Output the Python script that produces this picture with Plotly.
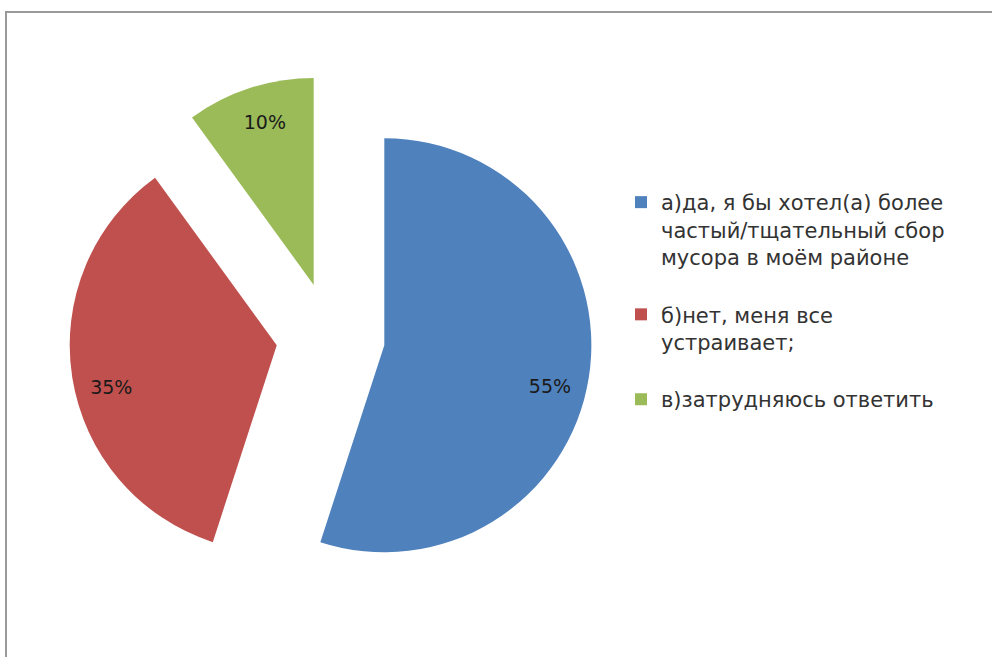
import plotly.graph_objects as go

# Data
labels = [
    "а)да, я бы хотел(а) более<br>частый/тщательный сбор<br>мусора в моём районе",
    "б)нет, меня все<br>устраивает;",
    "в)затрудняюсь ответить",
]
values = [55, 35, 10]
value_text = ["55%", "35%", "10%"]
colors = ["#4F81BD", "#C0504D", "#9BBB59"]
pull_all = 0.263

NB = "\u00a0"
# pad legend entries so they are spaced like the original
legend_pad = ["<br>" + NB, "<br>" + NB, ""]
legend_labels = [l + p for l, p in zip(labels, legend_pad)]

# nudge label text toward the outer edge (as in the original) with invisible padding
lead_lines = [2, 2, 0]
trail_lines = [0, 0, 1]
left_pad = [21, 0, 0]
right_pad = [0, 19, 0]
slice_text = []
for t, a, b, lp, rp in zip(value_text, lead_lines, trail_lines, left_pad, right_pad):
    s = "".join(NB + "<br>" for _ in range(a))
    s += NB * lp + t + NB * rp
    s += "".join("<br>" + NB for _ in range(b))
    slice_text.append(s)

fig = go.Figure(
    go.Pie(
        labels=legend_labels,
        values=values,
        text=slice_text,
        textinfo="text",
        textposition="inside",
        insidetextorientation="horizontal",
        textfont=dict(family="DejaVu Sans", size=19, color="#1a1a1a"),
        marker=dict(colors=colors, line=dict(width=0)),
        pull=[pull_all] * len(values),
        sort=False,
        direction="clockwise",
        rotation=0,
        domain=dict(x=[0.0696, 0.5968], y=[0.0895, 0.8855]),
        hoverinfo="percent",
    )
)

fig.update_layout(
    width=992,
    height=657,
    margin=dict(l=0, r=0, t=0, b=0),
    paper_bgcolor="white",
    plot_bgcolor="white",
    font=dict(family="DejaVu Sans", color="#333333"),
    legend=dict(
        x=0.626,
        xanchor="left",
        y=0.723,
        yanchor="top",
        valign="top",
        font=dict(family="DejaVu Sans", size=21, color="#333333"),
        bgcolor="rgba(0,0,0,0)",
    ),
    shapes=[
        dict(
            type="rect",
            xref="paper",
            yref="paper",
            x0=6 / 992,
            x1=1.05,
            y0=-0.05,
            y1=1 - 12 / 657,
            line=dict(color="#9a9a9a", width=2),
            fillcolor="rgba(0,0,0,0)",
            layer="below",
        )
    ],
)

fig.write_html(
    "out.html",
    config={"displayModeBar": False},
    post_script="document.body.style.margin='0';",
)
